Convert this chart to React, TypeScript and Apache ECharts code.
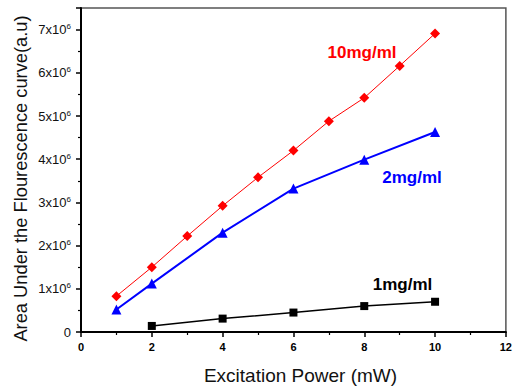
import React, { useEffect, useRef } from "react";
import * as echarts from "echarts";

const xRed = [1, 2, 3, 4, 5, 6, 7, 8, 9, 10];
const yRed = [0.83, 1.5, 2.22, 2.92, 3.58, 4.2, 4.88, 5.42, 6.16, 6.91];
const xBlue = [1, 2, 4, 6, 8, 10];
const yBlue = [0.52, 1.12, 2.3, 3.32, 3.99, 4.63];
const xBlack = [2, 4, 6, 8, 10];
const yBlack = [0.14, 0.31, 0.45, 0.6, 0.7];
const seriesNames = ["10mg/ml", "2mg/ml", "1mg/ml"];
const xTitle = "Excitation Power (mW)";
const yTitle = "Area Under the Flourescence curve(a.u)";

const FONT = "'Liberation Sans', Arial, sans-serif";
const pts = (xs: number[], ys: number[]) => xs.map((x, i) => [x, ys[i] * 1e6]);

export default function App() {
  const ref = useRef<HTMLDivElement>(null);
  useEffect(() => {
    if (!ref.current) return;
    const chart = echarts.init(ref.current, null, { renderer: "svg" });
    chart.setOption({
      animation: false,
      backgroundColor: "#fff",
      grid: {
        left: 81,
        right: 5,
        top: 8,
        bottom: 58,
        show: true,
        borderColor: "#555",
        borderWidth: 1.5,
      },
      xAxis: {
        type: "value",
        min: 0,
        max: 12,
        interval: 2,
        axisLine: { show: true, onZero: false, lineStyle: { color: "#000", width: 2 } },
        axisTick: { show: true, inside: false, length: 5, lineStyle: { color: "#000", width: 1.5 } },
        minorTick: { show: true, splitNumber: 2, length: 3, lineStyle: { color: "#000", width: 1.2 } },
        splitLine: { show: false },
        axisLabel: {
          margin: 9,
          fontFamily: FONT,
          fontWeight: "bold",
          fontSize: 11,
          color: "#000",
        },
      },
      yAxis: {
        type: "value",
        min: 0,
        max: 7.5e6,
        interval: 1e6,
        axisLine: { show: true, onZero: false, lineStyle: { color: "#000", width: 2 } },
        axisTick: { show: true, inside: false, length: 5, lineStyle: { color: "#000", width: 1.5 } },
        minorTick: { show: true, splitNumber: 2, length: 3, lineStyle: { color: "#000", width: 1.2 } },
        splitLine: { show: false },
        axisLabel: {
          margin: 10,
          showMaxLabel: false,
          formatter: (v: number) => {
            if (v === 0) return "{a|0}";
            if (Math.abs(v % 1e6) > 1) return "";
            return `{a|${Math.round(v / 1e6)}x10}{b|6}`;
          },
          rich: {
            a: { fontFamily: FONT, fontSize: 13, color: "#111", lineHeight: 14 },
            b: { fontFamily: FONT, fontSize: 8, color: "#111", verticalAlign: "top", lineHeight: 14, padding: [0, 0, 6, 0] },
          },
        },
      },
      series: [
        {
          name: seriesNames[0],
          type: "line",
          data: pts(xRed, yRed),
          symbol: "diamond",
          symbolSize: 10,
          itemStyle: { color: "#ff0000" },
          lineStyle: { color: "#ff0000", width: 1 },
        },
        {
          name: seriesNames[1],
          type: "line",
          data: pts(xBlue, yBlue),
          symbol: "triangle",
          symbolSize: 10,
          itemStyle: { color: "#0000ff" },
          lineStyle: { color: "#0000ff", width: 2 },
        },
        {
          name: seriesNames[2],
          type: "line",
          data: pts(xBlack, yBlack),
          symbol: "rect",
          symbolSize: 8,
          itemStyle: { color: "#000" },
          lineStyle: { color: "#000", width: 1.5 },
        },
      ],
      graphic: [
        {
          type: "text",
          x: 362,
          y: 52,
          style: { text: seriesNames[0], fill: "#ff0000", font: `bold 17px ${FONT}`, textAlign: "center", textVerticalAlign: "middle" },
        },
        {
          type: "text",
          x: 412,
          y: 177,
          style: { text: seriesNames[1], fill: "#0000ff", font: `bold 17px ${FONT}`, textAlign: "center", textVerticalAlign: "middle" },
        },
        {
          type: "text",
          x: 402.5,
          y: 284,
          style: { text: seriesNames[2], fill: "#000", font: `bold 17px ${FONT}`, textAlign: "center", textVerticalAlign: "middle" },
        },
        {
          type: "text",
          x: 300.5,
          y: 375,
          style: { text: xTitle, fill: "#111", font: `19px ${FONT}`, textAlign: "center", textVerticalAlign: "middle" },
        },
        {
          type: "text",
          x: 20,
          y: 178.5,
          rotation: Math.PI / 2,
          style: { text: yTitle, fill: "#111", font: `18.3px ${FONT}`, textAlign: "center", textVerticalAlign: "middle" },
        },
      ],
    });
    return () => chart.dispose();
  }, []);
  return <div ref={ref} style={{ width: 515, height: 390, position: "fixed", left: 0, top: 0 }} />;
}
